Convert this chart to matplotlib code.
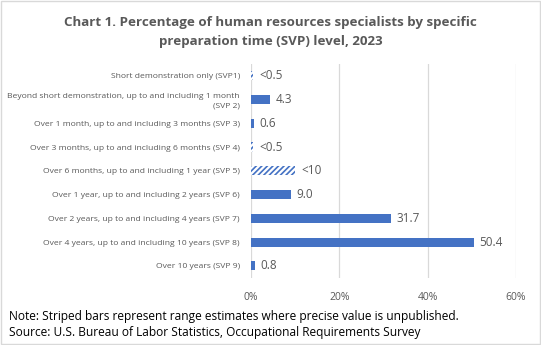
import matplotlib.pyplot as plt
from matplotlib.patches import Rectangle

categories = [
    "Short demonstration only (SVP1)",
    "Beyond short demonstration, up to and including 1 month\n(SVP 2)",
    "Over 1 month, up to and including 3 months (SVP 3)",
    "Over 3 months, up to and including 6 months (SVP 4)",
    "Over 6 months, up to and including 1 year (SVP 5)",
    "Over 1 year, up to and including 2 years (SVP 6)",
    "Over 2 years, up to and including 4 years (SVP 7)",
    "Over 4 years, up to and including 10 years (SVP 8)",
    "Over 10 years (SVP 9)",
]
values = [0.5, 4.3, 0.6, 0.5, 10.0, 9.0, 31.7, 50.4, 0.8]
labels = ["<0.5", "4.3", "0.6", "<0.5", "<10", "9.0", "31.7", "50.4", "0.8"]
striped = [True, False, False, True, True, False, False, False, False]

blue = "#4472C4"
grey = "#595959"
plt.rcParams["font.family"] = ["Open Sans", "DejaVu Sans"]
plt.rcParams["hatch.linewidth"] = 1.2

fig = plt.figure(figsize=(5.41, 3.45), dpi=100)
fig.patches.append(Rectangle((0.002, 0.002), 0.996, 0.996, transform=fig.transFigure,
                             fill=False, edgecolor="#D9D9D9", linewidth=1))
ax = fig.add_axes([0.464, 0.195, 0.490, 0.62])

ypos = list(range(len(categories)))
for y, v, lab, s in zip(ypos, values, labels, striped):
    if s:
        ax.barh(y, v, height=0.38, color="white", edgecolor=blue, hatch="//////",
                linewidth=0, zorder=3)
    else:
        ax.barh(y, v, height=0.38, color=blue, zorder=3)
    ax.text(v + 1.3, y, lab, va="center", ha="left", fontsize=8.5, color=grey)

ax.set_ylim(len(categories) - 0.5, -0.5)
ax.set_xlim(0, 60)
ax.set_xticks([0, 20, 40, 60])
ax.set_xticklabels(["0%", "20%", "40%", "60%"], fontsize=7.5, color=grey)
ax.set_yticks(ypos)
ax.set_yticklabels(categories, fontsize=6.1, color=grey, linespacing=1.45)
ax.tick_params(length=0, pad=8)
ax.tick_params(axis="x", pad=10)
ax.grid(axis="x", color="#D9D9D9", linewidth=0.9, zorder=0)
for sp in ax.spines.values():
    sp.set_visible(False)

fig.text(0.5, 0.907, "Chart 1. Percentage of human resources specialists by specific\n"
         "preparation time (SVP) level, 2023", ha="center", va="center",
         fontsize=9.6, fontweight="bold", color=grey, linespacing=1.65)
fig.text(0.016, 0.084, "Note: Striped bars represent range estimates where precise value is unpublished.",
         fontsize=8.6, color="black", va="center")
fig.text(0.016, 0.035, "Source: U.S. Bureau of Labor Statistics, Occupational Requirements Survey",
         fontsize=8.6, color="black", va="center")

fig.savefig("out.png", dpi=100)
